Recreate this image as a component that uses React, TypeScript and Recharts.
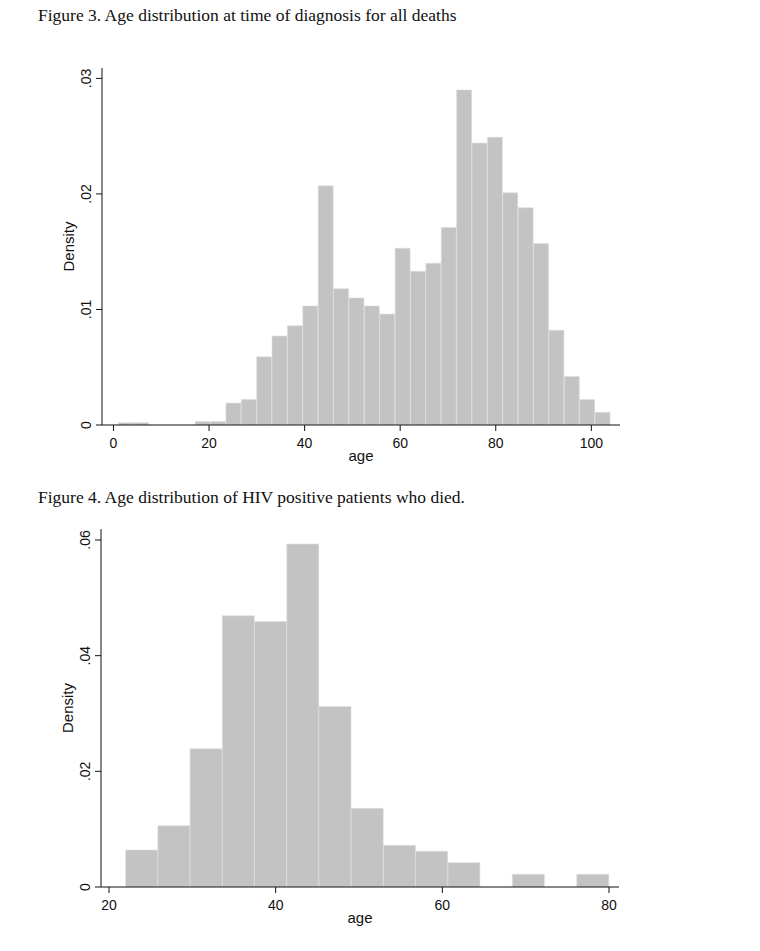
import React from "react";
import { BarChart, Bar, XAxis, YAxis, Label } from "recharts";

// Figure 3: all deaths, 32 bins between age 1 and 104
const ALL_AGE_MIN = 1;
const ALL_AGE_MAX = 104;
const ALL_DENSITY = [
  0.0002, 0.0002, 0, 0, 0, 0.0003, 0.0003, 0.0019, 0.0022, 0.0059, 0.0077,
  0.0086, 0.0103, 0.0207, 0.0118, 0.011, 0.0103, 0.0096, 0.0153, 0.0133,
  0.014, 0.0171, 0.029, 0.0244, 0.0249, 0.0201, 0.0188, 0.0157, 0.0082,
  0.0042, 0.0022, 0.0011,
];
const ALL_X_TICKS = [0, 20, 40, 60, 80, 100];
const ALL_Y_TICKS = [0, 0.01, 0.02, 0.03];

// Figure 4: HIV positive deaths, 15 bins between age 22 and 80
const HIV_AGE_MIN = 22;
const HIV_AGE_MAX = 80;
const HIV_DENSITY = [
  0.0064, 0.0106, 0.0239, 0.0469, 0.0459, 0.0593, 0.0312, 0.0136, 0.0072,
  0.0062, 0.0042, 0, 0.0022, 0, 0.0022,
];
const HIV_X_TICKS = [20, 40, 60, 80];
const HIV_Y_TICKS = [0, 0.02, 0.04, 0.06];

const SANS = "'Liberation Sans', Arial, Helvetica, sans-serif";
const SERIF = "'Liberation Serif', 'Times New Roman', serif";
const BAR_FILL = "#c3c3c3";

function toBins(min: number, max: number, density: number[]) {
  const w = (max - min) / density.length;
  return density.map((d, i) => ({ mid: min + (i + 0.5) * w, density: d }));
}

const fmtDensity = (v: number) => (v === 0 ? "0" : v.toFixed(2).replace(/^0/, ""));

function XTick({ x, y, payload }: any) {
  return (
    <text x={x} y={y} dy={17} textAnchor="middle" fontFamily={SANS} fontSize={14} fill="#111">
      {payload.value}
    </text>
  );
}

function YTick({ x, y, payload }: any) {
  return (
    <text
      x={0}
      y={0}
      transform={`translate(${x - 10}, ${y}) rotate(-90)`}
      textAnchor="middle"
      dominantBaseline="central"
      fontFamily={SANS}
      fontSize={14}
      fill="#111"
    >
      {fmtDensity(payload.value)}
    </text>
  );
}

function AxisTitleX({ viewBox }: any) {
  const cx = viewBox.x + viewBox.width / 2;
  return (
    <text x={cx} y={viewBox.y + 36} textAnchor="middle" fontFamily={SANS} fontSize={15} fill="#111">
      age
    </text>
  );
}

function AxisTitleY({ viewBox }: any) {
  const cy = viewBox.y + viewBox.height / 2;
  return (
    <text
      x={0}
      y={0}
      transform={`translate(${viewBox.x + 6}, ${cy}) rotate(-90)`}
      textAnchor="middle"
      dominantBaseline="central"
      fontFamily={SANS}
      fontSize={15}
      fill="#111"
    >
      Density
    </text>
  );
}

interface PanelProps {
  data: { mid: number; density: number }[];
  height: number;
  margin: { top: number; right: number; bottom: number; left: number };
  xDomain: [number, number];
  xTicks: number[];
  yDomain: [number, number];
  yTicks: number[];
}

function HistogramPanel({ data, height, margin, xDomain, xTicks, yDomain, yTicks }: PanelProps) {
  return (
    <BarChart width={760} height={height} data={data} margin={margin} barCategoryGap={0} barGap={0}>
      <XAxis
        dataKey="mid"
        type="number"
        domain={xDomain}
        ticks={xTicks}
        allowDataOverflow
        height={50}
        tickSize={6}
        tickMargin={0}
        tick={<XTick />}
        axisLine={{ stroke: "#111", strokeWidth: 1 }}
        tickLine={{ stroke: "#111", strokeWidth: 1 }}
      >
        <Label content={<AxisTitleX />} />
      </XAxis>
      <YAxis
        type="number"
        domain={yDomain}
        ticks={yTicks}
        allowDataOverflow
        width={40}
        tickSize={6}
        tickMargin={0}
        tick={<YTick />}
        axisLine={{ stroke: "#111", strokeWidth: 1 }}
        tickLine={{ stroke: "#111", strokeWidth: 1 }}
      >
        <Label content={<AxisTitleY />} />
      </YAxis>
      <Bar dataKey="density" fill={BAR_FILL} stroke="#dedede" strokeWidth={0.6} isAnimationActive={false} />
    </BarChart>
  );
}

const titleStyle: React.CSSProperties = {
  position: "absolute",
  left: 38,
  fontFamily: SERIF,
  fontSize: 17.5,
  lineHeight: "17.5px",
  color: "#111",
  whiteSpace: "nowrap",
};

export default function App() {
  const allBins = toBins(ALL_AGE_MIN, ALL_AGE_MAX, ALL_DENSITY);
  const hivBins = toBins(HIV_AGE_MIN, HIV_AGE_MAX, HIV_DENSITY);

  return (
    <div style={{ position: "absolute", left: 0, top: 0, width: 760, height: 951, background: "#fff" }}>
      <div style={{ position: "absolute", left: 0, top: 0 }}>
        <HistogramPanel
          data={allBins}
          height={475}
          margin={{ top: 68, right: 140, bottom: 0, left: 62 }}
          xDomain={[-2.4, 106]}
          xTicks={ALL_X_TICKS}
          yDomain={[0, 0.0309]}
          yTicks={ALL_Y_TICKS}
        />
      </div>
      <div style={{ position: "absolute", left: 0, top: 475 }}>
        <HistogramPanel
          data={hivBins}
          height={476}
          margin={{ top: 54, right: 141, bottom: 14, left: 61 }}
          xDomain={[19.04, 81.2]}
          xTicks={HIV_X_TICKS}
          yDomain={[0, 0.0619]}
          yTicks={HIV_Y_TICKS}
        />
      </div>
      <div style={{ ...titleStyle, top: 6.5 }}>
        Figure 3. Age distribution at time of diagnosis for all deaths
      </div>
      <div style={{ ...titleStyle, top: 488.5 }}>
        Figure 4. Age distribution of HIV positive patients who died.
      </div>
    </div>
  );
}
